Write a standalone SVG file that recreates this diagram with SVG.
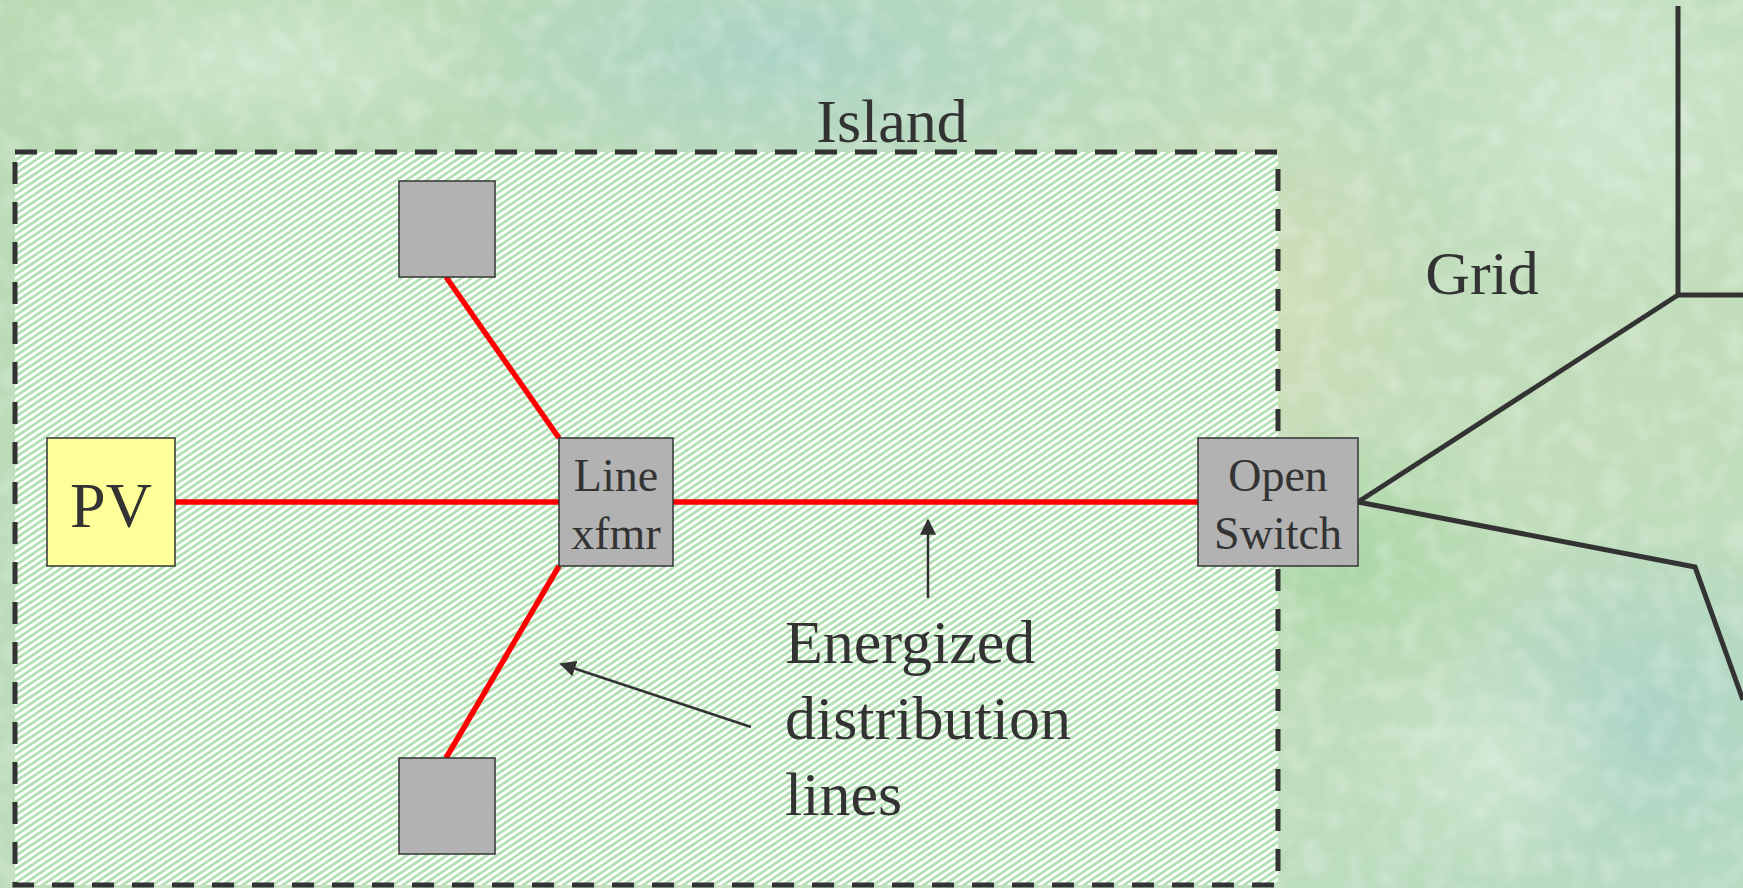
<svg xmlns="http://www.w3.org/2000/svg" width="1743" height="888" viewBox="0 0 1743 888">
  <style>
    .t { font-family: "Liberation Serif", "Times New Roman", serif; fill: #333333; }
    .box { fill: #b2b2b2; stroke: #333333; stroke-width: 1.5; }
    .pv { fill: #ffff99; stroke: #333333; stroke-width: 1.5; }
    .red { stroke: #ff0000; stroke-width: 5.5; fill: none; }
    .grid { stroke: #333333; stroke-width: 5; fill: none; stroke-linejoin: miter; }
    .ann { stroke: #333333; stroke-width: 2.5; fill: none; }
  </style>
  <defs>
    <linearGradient id="bgBase" x1="0" y1="0" x2="1" y2="1">
      <stop offset="0" stop-color="#b9dab3"/>
      <stop offset="0.4" stop-color="#bddcbd"/>
      <stop offset="0.7" stop-color="#c2ddba"/>
      <stop offset="1" stop-color="#b8dcc2"/>
    </linearGradient>
    <radialGradient id="blue" cx="0.5" cy="0.5" r="0.5">
      <stop offset="0" stop-color="#a8d2c8" stop-opacity="0.85"/>
      <stop offset="1" stop-color="#a8d2c8" stop-opacity="0"/>
    </radialGradient>
    <radialGradient id="beige" cx="0.5" cy="0.5" r="0.5">
      <stop offset="0" stop-color="#d6ddb4" stop-opacity="0.8"/>
      <stop offset="1" stop-color="#d6ddb4" stop-opacity="0"/>
    </radialGradient>
    <radialGradient id="green" cx="0.5" cy="0.5" r="0.5">
      <stop offset="0" stop-color="#a6d6a4" stop-opacity="0.85"/>
      <stop offset="1" stop-color="#a6d6a4" stop-opacity="0"/>
    </radialGradient>
    <radialGradient id="light" cx="0.5" cy="0.5" r="0.5">
      <stop offset="0" stop-color="#d2e8d2" stop-opacity="0.8"/>
      <stop offset="1" stop-color="#d2e8d2" stop-opacity="0"/>
    </radialGradient>
    <filter id="tex" x="0" y="0" width="100%" height="100%">
      <feTurbulence type="fractalNoise" baseFrequency="0.04" numOctaves="2" seed="3" result="n"/>
      <feColorMatrix in="n" type="matrix" values="0 0 0 0 1  0 0 0 0 1  0 0 0 0 1  0 0 0 -2.5 1.45" result="w"/>
      <feComposite in="w" in2="SourceGraphic" operator="in"/>
    </filter>
    <pattern id="hatch" patternUnits="userSpaceOnUse" width="5.6" height="5.6" patternTransform="rotate(56)">
      <rect width="5.6" height="5.6" fill="#ffffff"/>
      <rect width="2.6" height="5.6" fill="#b3e0b3" shape-rendering="crispEdges"/>
    </pattern>
    <marker id="arr" viewBox="0 0 10 10" refX="9" refY="5" markerWidth="6.5" markerHeight="6.5" markerUnits="strokeWidth" orient="auto">
      <path d="M0,0 L10,5 L0,10 Z" fill="#333333"/>
    </marker>
  </defs>

  <g id="background">
    <rect width="1743" height="888" fill="url(#bgBase)"/>
    <ellipse cx="780" cy="50" rx="360" ry="140" fill="url(#blue)"/>
    <ellipse cx="1240" cy="300" rx="220" ry="220" fill="url(#beige)"/>
    <ellipse cx="1610" cy="120" rx="200" ry="180" fill="url(#light)"/>
    <ellipse cx="1640" cy="720" rx="220" ry="200" fill="url(#blue)"/>
    <ellipse cx="1340" cy="560" rx="200" ry="140" fill="url(#green)"/>
    <ellipse cx="1500" cy="760" rx="140" ry="120" fill="url(#light)"/>
    <ellipse cx="260" cy="60" rx="260" ry="90" fill="url(#light)"/>
    <rect width="1743" height="888" fill="#ffffff" opacity="0.22" filter="url(#tex)"/>
  </g>

  <g id="island">
    <rect x="15" y="152" width="1263" height="733" fill="url(#hatch)" stroke="#333333" stroke-width="5" stroke-dasharray="22 18"/>
    <text class="t" x="892" y="142" font-size="62" text-anchor="middle">Island</text>
  </g>

  <g id="grid-label">
    <text class="t" x="1482" y="294" font-size="62" text-anchor="middle">Grid</text>
  </g>

  <g id="connectors">
    <line class="red" x1="175" y1="502" x2="559" y2="502"/>
    <line class="red" x1="673" y1="502" x2="1198" y2="502"/>
    <line class="red" x1="446" y1="277" x2="559" y2="438"/>
    <line class="red" x1="559" y1="566" x2="446" y2="758"/>
    <polyline class="grid" points="1678,6 1678,295 1743,295"/>
    <line class="grid" x1="1358" y1="502" x2="1678" y2="295"/>
    <polyline class="grid" points="1358,502 1695,567 1743,700"/>
    <line class="ann" x1="928" y1="598" x2="928" y2="520" marker-end="url(#arr)"/>
    <line class="ann" x1="751" y1="727" x2="561" y2="664" marker-end="url(#arr)"/>
  </g>

  <g id="load-top">
    <rect class="box" x="399" y="181" width="96" height="96"/>
  </g>
  <g id="load-bottom">
    <rect class="box" x="399" y="758" width="96" height="96"/>
  </g>
  <g id="pv">
    <rect class="pv" x="47" y="438" width="128" height="128"/>
    <text class="t" x="111" y="527" font-size="64" text-anchor="middle">PV</text>
  </g>
  <g id="line-xfmr">
    <rect class="box" x="559" y="438" width="114" height="128"/>
    <text class="t" x="616" y="491" font-size="46" text-anchor="middle">Line</text>
    <text class="t" x="616" y="549" font-size="46" text-anchor="middle">xfmr</text>
  </g>
  <g id="open-switch">
    <rect class="box" x="1198" y="438" width="160" height="128"/>
    <text class="t" x="1278" y="491" font-size="46" text-anchor="middle">Open</text>
    <text class="t" x="1278" y="549" font-size="46" text-anchor="middle">Switch</text>
  </g>
  <g id="annotation">
    <text class="t" font-size="62" x="785" y="663">Energized</text>
    <text class="t" font-size="62" x="785" y="739">distribution</text>
    <text class="t" font-size="62" x="785" y="815">lines</text>
  </g>
</svg>
